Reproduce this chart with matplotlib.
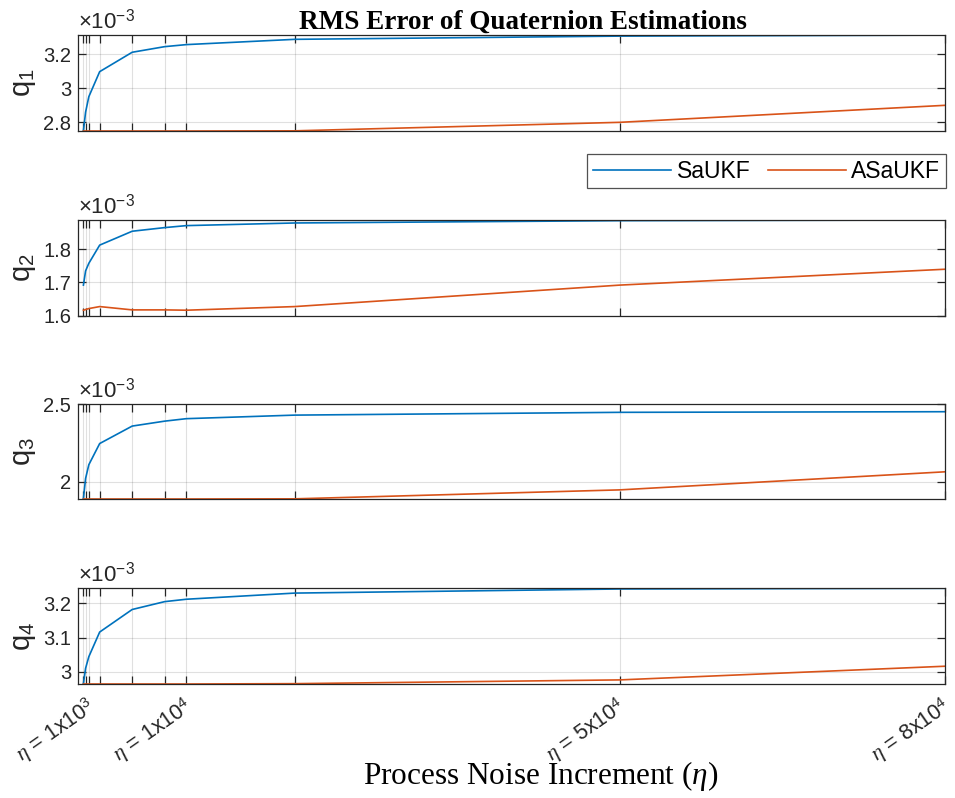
import matplotlib
matplotlib.use("Agg")
import matplotlib.pyplot as plt
from matplotlib.ticker import FuncFormatter

plt.rcParams['font.family'] = ['Liberation Sans', 'DejaVu Sans']
plt.rcParams['mathtext.fontset'] = 'custom'
plt.rcParams['mathtext.rm'] = 'Liberation Sans'
plt.rcParams['mathtext.it'] = 'Liberation Serif:italic'
plt.rcParams['mathtext.bf'] = 'Liberation Sans:bold'

# ---- data (values in units of 1e-3) ----
eta = [500, 700, 1000, 2000, 5000, 8000, 10000, 20000, 50000, 80000]

q1_saukf  = [2.75, 2.86, 2.951, 3.098, 3.212, 3.245, 3.257, 3.288, 3.307, 3.313]
q1_asaukf = [2.749, 2.749, 2.749, 2.749, 2.749, 2.749, 2.749, 2.750, 2.800, 2.900]

q2_saukf  = [1.692, 1.735, 1.758, 1.813, 1.855, 1.866, 1.872, 1.880, 1.887, 1.889]
q2_asaukf = [1.616, 1.618, 1.621, 1.627, 1.617, 1.617, 1.616, 1.627, 1.692, 1.740]

q3_saukf  = [1.89, 2.02, 2.109, 2.246, 2.359, 2.391, 2.407, 2.430, 2.448, 2.452]
q3_asaukf = [1.887, 1.887, 1.887, 1.887, 1.887, 1.887, 1.887, 1.888, 1.946, 2.063]

q4_saukf  = [2.965, 3.01, 3.044, 3.116, 3.182, 3.205, 3.212, 3.230, 3.242, 3.244]
q4_asaukf = [2.964, 2.964, 2.964, 2.964, 2.964, 2.964, 2.964, 2.965, 2.976, 3.016]

series = [(q1_saukf, q1_asaukf), (q2_saukf, q2_asaukf),
          (q3_saukf, q3_asaukf), (q4_saukf, q4_asaukf)]
ylabels = [r'q$_{\mathregular{1}}$', r'q$_{\mathregular{2}}$',
           r'q$_{\mathregular{3}}$', r'q$_{\mathregular{4}}$']
ylims = [(2.749, 3.3135), (1.600, 1.889), (1.885, 2.500), (2.964, 3.244)]
yticks = [[2.8, 3.0, 3.2], [1.6, 1.7, 1.8], [2.0, 2.5], [3.0, 3.1, 3.2]]

xtick_labels = {1000: r'$\eta$ = 1x10$^{3}$', 10000: r'$\eta$ = 1x10$^{4}$',
                50000: r'$\eta$ = 5x10$^{4}$', 80000: r'$\eta$ = 8x10$^{4}$'}
legend_labels = ['SaUKF', 'ASaUKF']

c_sa = '#0072BD'
c_asa = '#D95319'
spine_c = '#262626'

fig = plt.figure(figsize=(9.55, 7.98), dpi=100)
W, H = 955, 798
left = 78 / W
width = 867 / W
tops = [35, 220, 404.3, 588.3]
bottoms = [131, 315.5, 499.3, 684]

axes = []
for i in range(4):
    ax = fig.add_axes([left, 1 - bottoms[i] / H, width, (bottoms[i] - tops[i]) / H])
    axes.append(ax)
    sa, asa = series[i]
    l1, = ax.plot(eta, sa, color=c_sa, lw=1.2, label=legend_labels[0])
    l2, = ax.plot(eta, asa, color=c_asa, lw=1.2, label=legend_labels[1])
    ax.set_xlim(0, 80000)
    ax.set_ylim(*ylims[i])
    ax.set_xticks(eta)
    ax.set_xticklabels([])
    ax.set_yticks(yticks[i])
    ax.yaxis.set_major_formatter(FuncFormatter(lambda v, p: ('%g' % round(v, 3))))
    ax.tick_params(direction='in', top=True, right=True, length=6, width=0.9,
                   color=spine_c, labelsize=14.5, labelcolor='#262626', pad=5)
    ax.grid(True, color='#000000', alpha=0.12, lw=0.8)
    for s in ax.spines.values():
        s.set_color(spine_c)
        s.set_linewidth(0.9)
    ax.set_ylabel(ylabels[i], fontsize=21, color='#262626', labelpad=4)
    ax.text(0.0, 1.015, r'$\times$10$^{-3}$', transform=ax.transAxes,
            fontsize=16, ha='left', va='bottom', color='#262626')

# rotated x tick labels on the bottom panel
axb = axes[3]
for e in eta:
    if e in xtick_labels:
        axb.annotate(xtick_labels[e], xy=(e, 0), xycoords=axb.get_xaxis_transform(),
                     xytext=(-2.5, -7), textcoords='offset points',
                     rotation=35, rotation_mode='anchor', ha='right', va='top',
                     fontsize=15.5, color='#262626')

axes[0].set_title('RMS Error of Quaternion Estimations', family='Liberation Serif',
                  fontweight='bold', fontsize=19.5, pad=2,
                  x=(523 - 78) / 867)
axb.set_xlabel(r'Process Noise Increment ($\eta$)', family='Liberation Serif',
               fontsize=22.5, labelpad=0)
axb.xaxis.set_label_coords((541 - 78) / 867, -0.78)

leg = fig.legend(handles=[l1, l2], labels=legend_labels, ncol=2,
                 loc='upper right', bbox_to_anchor=(946 / W, 1 - 154 / H),
                 fontsize=16.5, frameon=True, fancybox=False, handlelength=3.4,
                 borderpad=0.25, columnspacing=0.75, handletextpad=0.25,
                 borderaxespad=0)
leg.get_frame().set_edgecolor('#262626')
leg.get_frame().set_linewidth(0.9)

fig.savefig('out.png', dpi=100)
